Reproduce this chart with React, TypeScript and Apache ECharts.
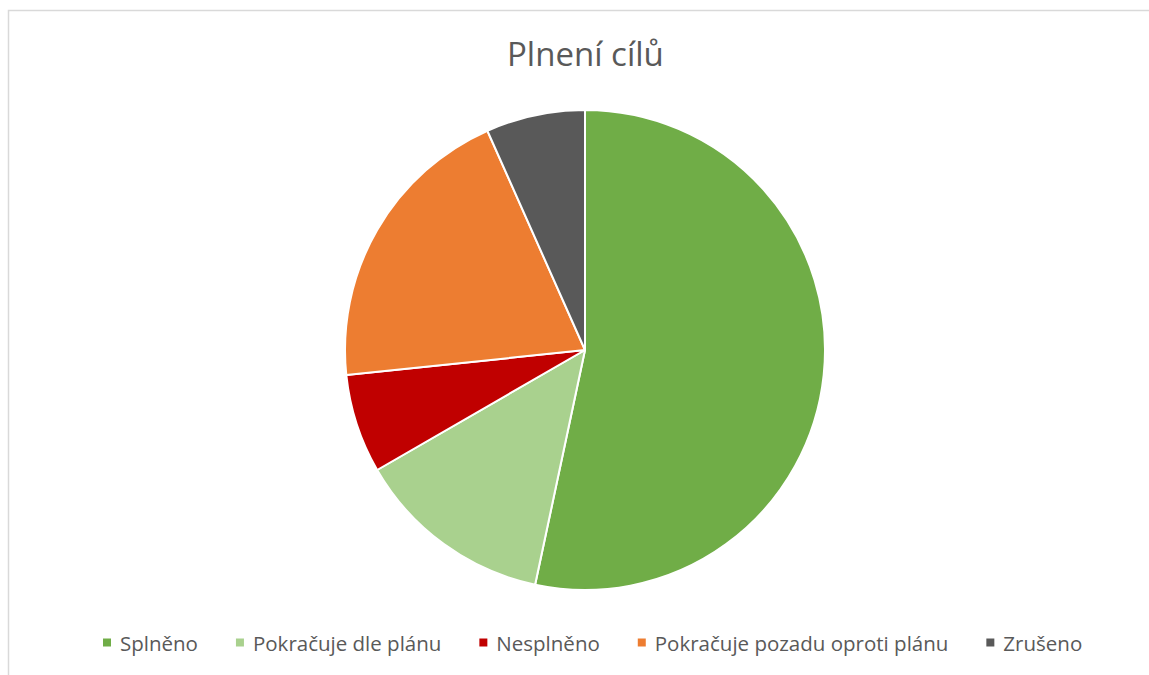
import React, { useEffect, useRef } from "react";
import * as echarts from "echarts";

const categories = ["Splněno", "Pokračuje dle plánu", "Nesplněno", "Pokračuje pozadu oproti plánu", "Zrušeno"];
const values = [8, 2, 1, 3, 1];
const colors = ["#70AD47", "#A9D18E", "#C00000", "#ED7D31", "#595959"];
const titleText = "Plnení cílů";

export default function App() {
  const ref = useRef<HTMLDivElement>(null);
  useEffect(() => {
    const chart = echarts.init(ref.current!, undefined, { renderer: "svg" });
    chart.setOption({
      animation: false,
      backgroundColor: "#ffffff",
      title: {
        text: titleText,
        left: 502,
        top: 32,
        textStyle: { fontFamily: "Open Sans", fontSize: 33, fontWeight: "normal", color: "#595959" },
      },
      legend: {
        data: categories,
        left: 96,
        top: 627,
        icon: "rect",
        itemWidth: 10,
        itemHeight: 10,
        itemGap: 36,
        textStyle: { fontFamily: "Open Sans", fontSize: 20.5, color: "#595959", padding: [0, 0, 0, 3] },
      },
      graphic: [
        {
          type: "rect",
          shape: { x: 8.5, y: 10.5, width: 1200, height: 700 },
          style: { fill: "none", stroke: "#d9d9d9", lineWidth: 1.5 },
          silent: true,
        },
      ],
      series: [
        {
          type: "pie",
          center: [585, 350],
          radius: 240,
          startAngle: 90,
          clockwise: true,
          label: { show: false },
          labelLine: { show: false },
          itemStyle: { borderColor: "#ffffff", borderWidth: 2 },
          data: categories.map((c, i) => ({ name: c, value: values[i], itemStyle: { color: colors[i] } })),
        },
      ],
    });
    return () => chart.dispose();
  }, []);
  return <div ref={ref} style={{ position: "fixed", left: 0, top: 0, width: 1149, height: 675 }} />;
}
